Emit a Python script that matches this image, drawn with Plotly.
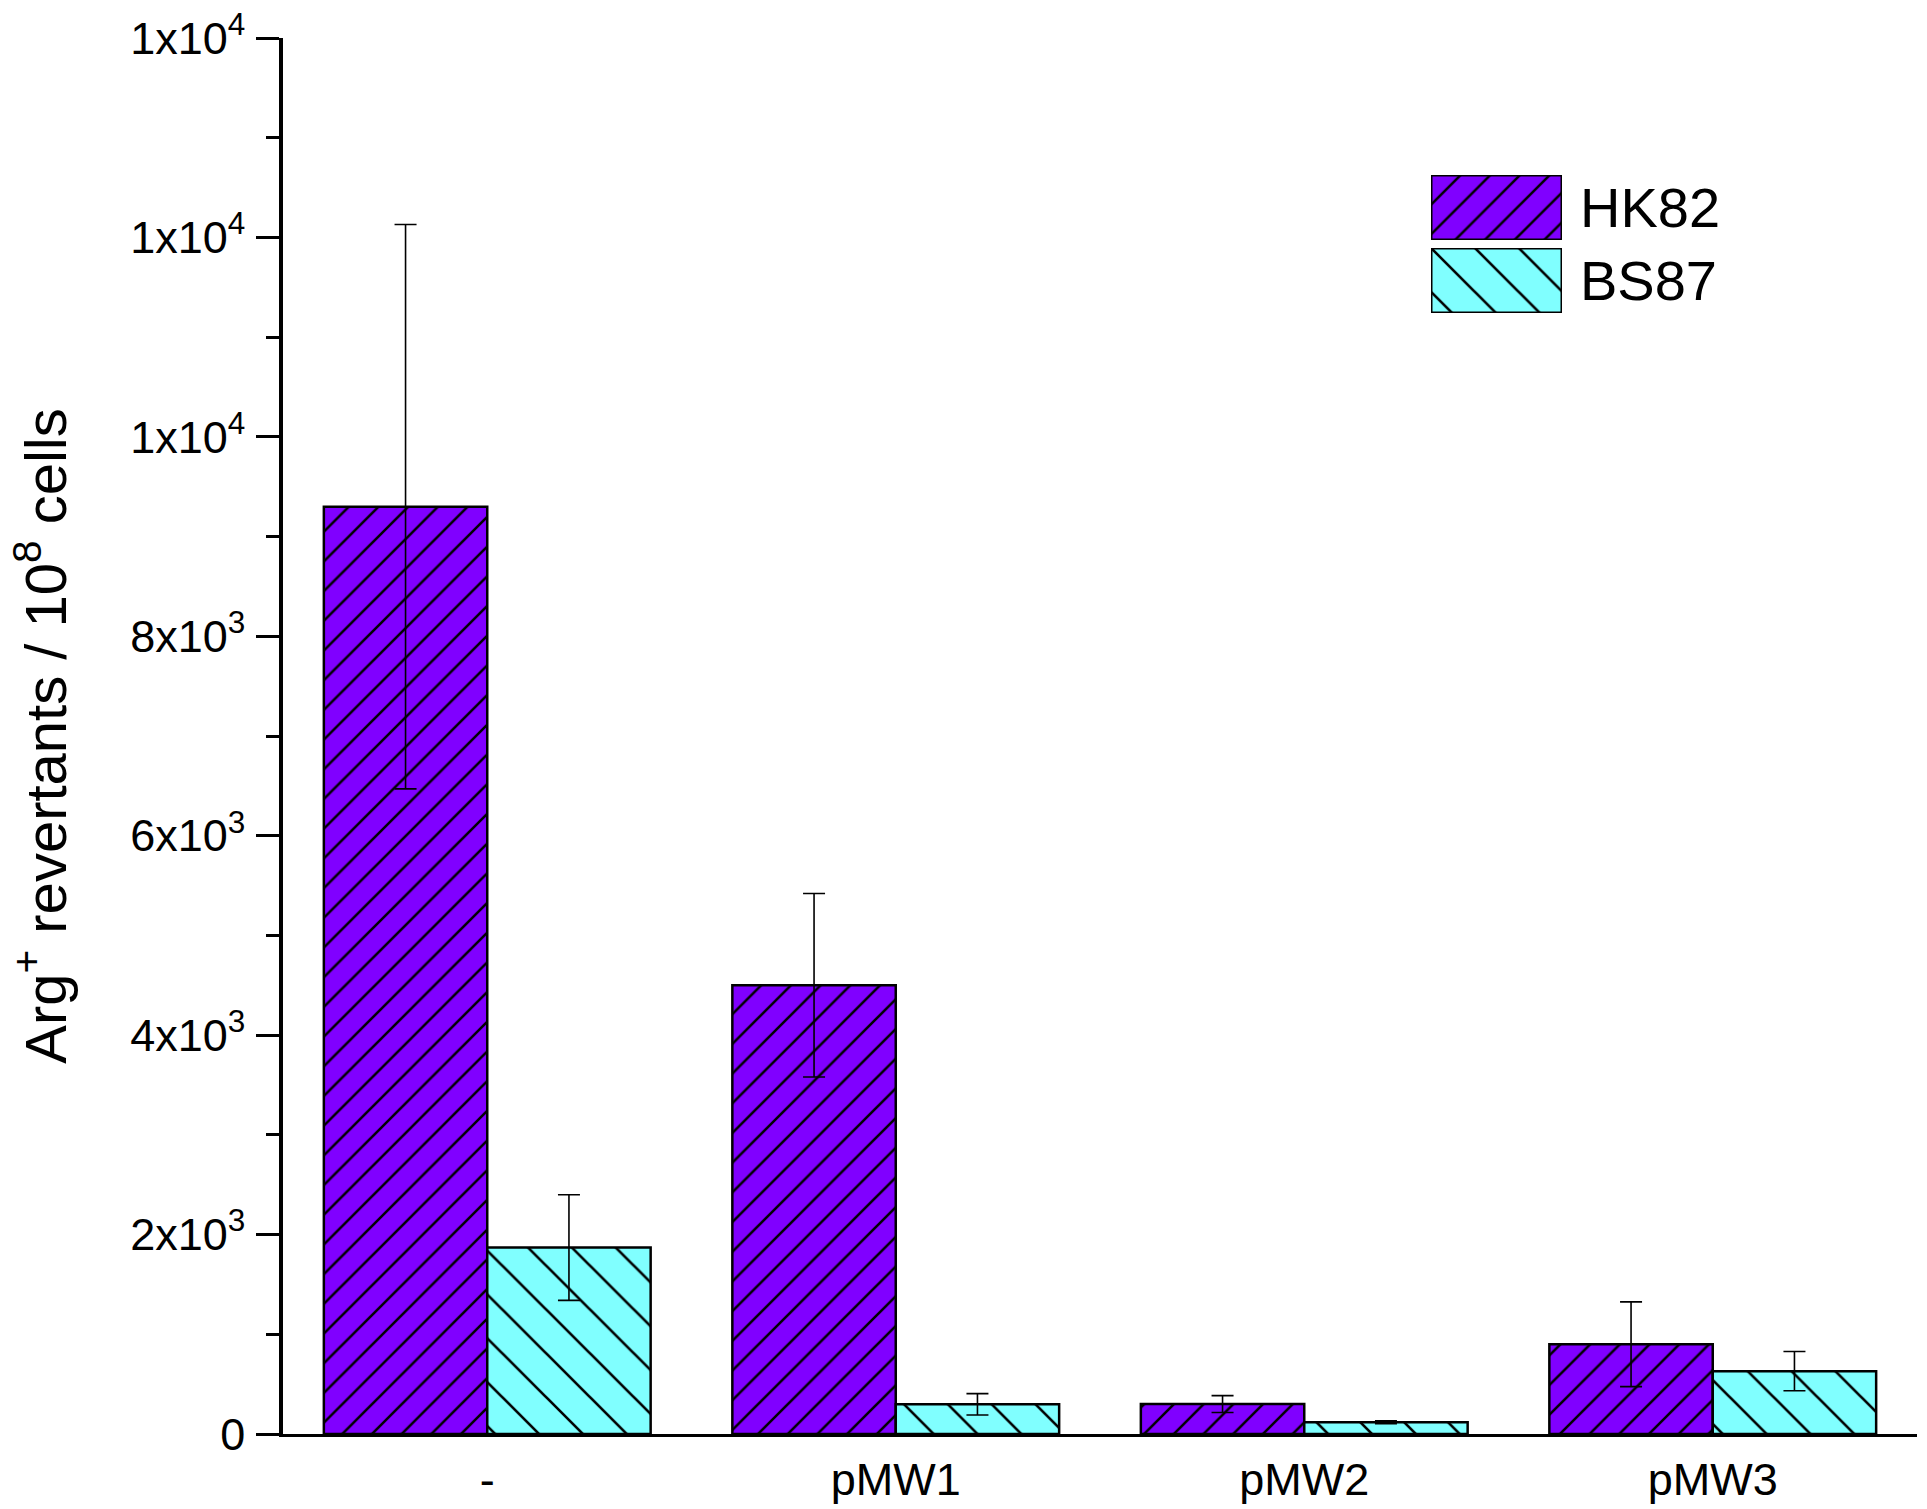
import plotly.graph_objects as go

# ---- data ----
categories = ["-", "pMW1", "pMW2", "pMW3"]
series_names = ["HK82", "BS87"]
hk82 = [9300, 4500, 300, 900]
hk82_err = [2830, 920, 85, 425]
bs87 = [1870, 298, 118, 630]
bs87_err = [530, 107, 15, 197]
tick_vals = [0, 2000, 4000, 6000, 8000, 10000, 12000, 14000]
tick_text = ["0", "2x10<sup>3</sup>", "4x10<sup>3</sup>", "6x10<sup>3</sup>",
             "8x10<sup>3</sup>", "1x10<sup>4</sup>", "1x10<sup>4</sup>", "1x10<sup>4</sup>"]

# ---- styles ----
FONT = "Arial, 'Liberation Sans', sans-serif"
colors = ["#8000FF", "#80FFFF"]
shapes = ["/", "\\"]
hatch_sizes = [21, 31]
solidities = [0.12, 0.085]

W, H = 1927, 1509
L, R, T, B = 283, 10, 38, 75
PW, PH = W - L - R, H - T - B

def px_x(x):
    return (x - L) / PW

def px_y(y):
    return (H - B - y) / PH

fig = go.Figure()
for name, vals, errs, col, shp, sz, sol in zip(series_names, [hk82, bs87], [hk82_err, bs87_err],
                                               colors, shapes, hatch_sizes, solidities):
    fig.add_trace(go.Bar(
        x=categories, y=vals, name=name,
        marker=dict(color=col, line=dict(color="black", width=2.5),
                    pattern=dict(shape=shp, size=sz, solidity=sol, fgcolor="black",
                                 fgopacity=1, bgcolor=col, fillmode="overlay")),
        error_y=dict(type="data", array=errs, visible=True, color="black",
                     thickness=1.6, width=11),
        showlegend=False,
    ))

# legend swatches: one bar per hidden overlay axis pair
legend_boxes_y = [(175, 240), (248, 313)]
layout_axes = {}
annotations = []
for i, (name, col, shp, sz, sol) in enumerate(zip(series_names, colors, shapes, hatch_sizes, solidities)):
    n = i + 2
    fig.add_trace(go.Bar(
        x=[1], y=[1], xaxis=f"x{n}", yaxis=f"y{n}", showlegend=False, hoverinfo="skip",
        width=1,
        marker=dict(color=col, line=dict(color="black", width=3),
                    pattern=dict(shape=shp, size=sz, solidity=sol, fgcolor="black",
                                 fgopacity=1, bgcolor=col, fillmode="overlay")),
    ))
    y0, y1 = legend_boxes_y[i]
    layout_axes[f"xaxis{n}"] = dict(domain=[px_x(1431), px_x(1562)], anchor=f"y{n}",
                                    range=[0.5, 1.5], visible=False)
    layout_axes[f"yaxis{n}"] = dict(domain=[px_y(y1), px_y(y0)], anchor=f"x{n}",
                                    range=[0, 1], visible=False)
    annotations.append(dict(text=name, xref="paper", yref="paper", x=px_x(1578),
                            y=px_y((y0 + y1) / 2),
                            xanchor="left", yanchor="middle", showarrow=False,
                            font=dict(family=FONT, size=56, color="black")))

fig.update_layout(
    width=W, height=H,
    margin=dict(l=L, r=R, t=T, b=B, autoexpand=False),
    paper_bgcolor="white", plot_bgcolor="white",
    barmode="group", bargap=0.2, bargroupgap=0,
    font=dict(family=FONT, color="black"),
    annotations=annotations,
    xaxis=dict(type="category", range=[-0.5, 3.5], showline=True, linecolor="black",
               linewidth=3, ticks="", showgrid=False, zeroline=False, ticklabelstandoff=4,
               tickfont=dict(size=45, family=FONT, color="black")),
    yaxis=dict(range=[0, 14000], showline=True, linecolor="black", linewidth=3.5,
               ticks="outside", ticklen=23, tickwidth=3, tickcolor="black", ticklabelstandoff=2,
               tickvals=tick_vals, ticktext=tick_text, showgrid=False, zeroline=False,
               tickfont=dict(size=45, family=FONT, color="black"),
               minor=dict(dtick=1000, tick0=0, ticks="outside", ticklen=13, tickwidth=3,
                          tickcolor="black", showgrid=False),
               title=dict(text="Arg<sup>+</sup> revertants / 10<sup>8</sup> cells",
                          font=dict(size=58, family=FONT, color="black"), standoff=46)),
    **layout_axes,
)

fig.write_html("out.html", config={"displayModeBar": False},
               post_script="document.body.style.margin='0';document.body.style.overflow='hidden';")
